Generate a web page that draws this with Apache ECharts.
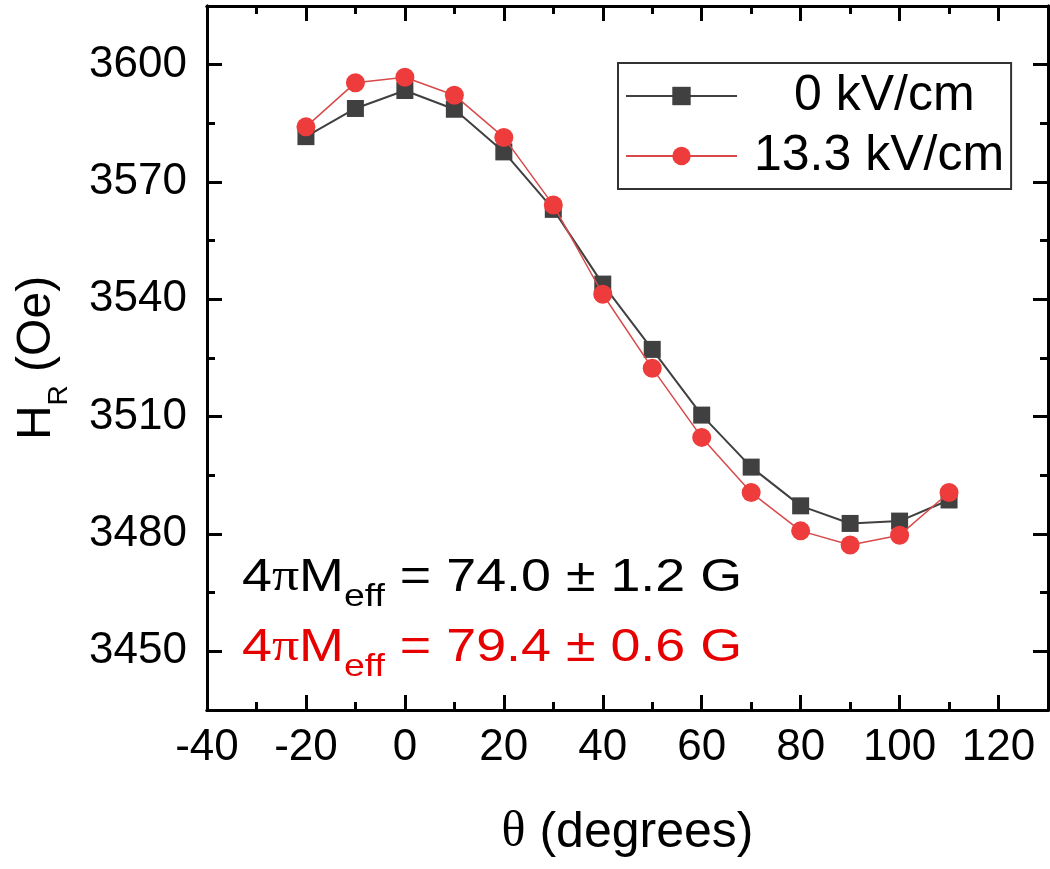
<!DOCTYPE html>
<html>
<head>
<meta charset="utf-8">
<script src="https://cdn.jsdelivr.net/npm/echarts@6/dist/echarts.min.js"></script>
<style>
  html, body { margin: 0; padding: 0; background: #fff; }
  #chart { width: 1050px; height: 869px; }
</style>
</head>
<body>
<div id="chart"></div>
<script>
// Resonance field vs in-plane angle, at two electric fields
const angles = [-20, -10, 0, 10, 20, 30, 40, 50, 60, 70, 80, 90, 100, 110];
const hr0kV = [3581.6, 3588.8, 3593.4, 3588.6, 3577.7, 3563.0, 3543.9, 3527.2, 3510.4, 3497.1, 3487.2, 3482.7, 3483.3, 3488.7];
const hr13kV = [3584.1, 3595.4, 3596.8, 3592.2, 3581.4, 3564.1, 3541.3, 3522.4, 3504.7, 3490.6, 3480.8, 3477.2, 3479.7, 3490.6];
const seriesNames = ['0 kV/cm', '13.3 kV/cm'];

// Axis ranges and tick positions
const xRange = [-40, 130];
const yRange = [3435, 3615];
const xMajorTicks = [-40, -20, 0, 20, 40, 60, 80, 100, 120];
const xMinorTicks = [-30, -10, 10, 30, 50, 70, 90, 110];
const yMajorTicks = [3450, 3480, 3510, 3540, 3570, 3600];
const yMinorTicks = [3465, 3495, 3525, 3555, 3585];

// Fitted effective magnetisation for each field
const meffValues = ['74.0', '79.4'];
const meffErrors = ['1.2', '0.6'];

const FONT = 'Liberation Sans, Arial, sans-serif';
const SERIF = 'Liberation Serif, Times New Roman, serif';
const colors = ['#404040', '#ee3b3b'];
const lineColors = ['#404040', '#d84a4a'];
const textColors = ['#000000', '#e60000'];

function axis(dim, position, range, ticks, tickLen, withLabels) {
  return {
    type: 'value',
    position: position,
    min: range[0],
    max: range[1],
    gridIndex: 0,
    axisLine: { show: true, onZero: false, lineStyle: { color: '#000', width: 3 } },
    axisTick: { show: true, inside: true, length: tickLen, customValues: ticks,
      lineStyle: { color: '#000', width: 3 } },
    axisLabel: withLabels ? {
      show: true, customValues: ticks, color: '#000', fontSize: 44, fontFamily: FONT,
      margin: dim === 'x' ? 16 : 20,
      formatter: v => String(v)
    } : { show: false },
    splitLine: { show: false },
    minorTick: { show: false }
  };
}

const xAxes = [
  axis('x', 'bottom', xRange, xMajorTicks, 15, true),
  axis('x', 'bottom', xRange, xMinorTicks, 8, false),
  axis('x', 'top', xRange, xMajorTicks, 15, false),
  axis('x', 'top', xRange, xMinorTicks, 8, false)
];
Object.assign(xAxes[0], {
  name: '{t|θ} (degrees)',
  nameLocation: 'middle',
  nameGap: 98,
  nameTextStyle: {
    color: '#000', fontSize: 50, fontFamily: FONT,
    rich: { t: { fontFamily: SERIF, fontSize: 50, color: '#000' } }
  }
});

const yAxes = [
  axis('y', 'left', yRange, yMajorTicks, 15, true),
  axis('y', 'left', yRange, yMinorTicks, 8, false),
  axis('y', 'right', yRange, yMajorTicks, 15, false),
  axis('y', 'right', yRange, yMinorTicks, 8, false)
];
Object.assign(yAxes[0], {
  name: 'H{s|R} (Oe)',
  nameLocation: 'middle',
  nameRotate: 90,
  nameGap: 134,
  nameTextStyle: {
    color: '#000', fontSize: 48, fontFamily: FONT,
    rich: { s: { fontSize: 28, fontFamily: FONT, color: '#000', padding: [44, 0, 0, 0] } }
  }
});

function points(ys) {
  return angles.map((a, i) => [a, ys[i]]);
}

function meffText(i) {
  return '{n|4}{p|π}{n|M}{s|eff}{n| = ' + meffValues[i] + ' ± ' + meffErrors[i] + ' G}';
}
function meffRich(color) {
  return {
    n: { fontSize: 46, fontFamily: FONT, fill: color },
    p: { fontSize: 46, fontFamily: SERIF, fill: color },
    s: { fontSize: 32, fontFamily: FONT, fill: color, padding: [38, 0, 0, 0] }
  };
}

const chart = echarts.init(document.getElementById('chart'), null, { renderer: 'canvas' });
chart.setOption({
  animation: false,
  backgroundColor: '#fff',
  grid: { left: 207, right: 2, top: 6, bottom: 159, containLabel: false },
  xAxis: xAxes,
  yAxis: yAxes,
  legend: {
    data: seriesNames,
    orient: 'vertical',
    left: 618,
    top: 63,
    padding: [8, 7, 8, 7],
    itemGap: 10,
    itemWidth: 111,
    itemHeight: 23,
    borderColor: '#333',
    borderWidth: 2,
    backgroundColor: '#fff',
    formatter: name => (name === seriesNames[0] ? '{a|' + name + '}' : '{b|' + name + '}'),
    textStyle: {
      color: '#000', fontSize: 50, fontFamily: FONT,
      rich: {
        a: { fontSize: 50, fontFamily: FONT, color: '#000', padding: [0, 0, 0, 52] },
        b: { fontSize: 50, fontFamily: FONT, color: '#000', padding: [0, 0, 0, 12] }
      }
    }
  },
  series: [
    {
      name: seriesNames[0],
      type: 'line',
      xAxisIndex: 0,
      yAxisIndex: 0,
      data: points(hr0kV),
      symbol: 'rect',
      symbolSize: 17,
      itemStyle: { color: colors[0] },
      lineStyle: { color: lineColors[0], width: 2 },
      z: 2
    },
    {
      name: seriesNames[1],
      type: 'line',
      xAxisIndex: 0,
      yAxisIndex: 0,
      data: points(hr13kV),
      symbol: 'circle',
      symbolSize: 19,
      itemStyle: { color: colors[1] },
      lineStyle: { color: lineColors[1], width: 1.5 },
      z: 3
    }
  ],
  graphic: [0, 1].map(i => ({
    type: 'text',
    x: 242,
    y: i === 0 ? 578 : 648,
    scaleX: 1.17,
    z: 10,
    style: {
      text: meffText(i),
      rich: meffRich(textColors[i]),
      fill: textColors[i],
      fontSize: 46,
      fontFamily: FONT,
      align: 'left',
      verticalAlign: 'middle'
    }
  }))
});
</script>
</body>
</html>
